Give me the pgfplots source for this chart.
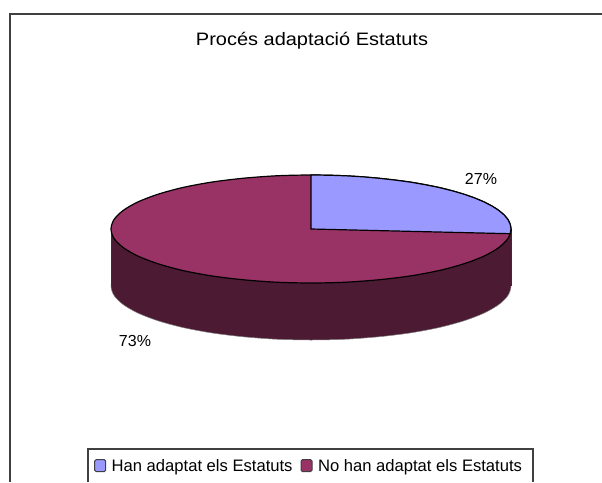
\documentclass[border=0pt]{standalone}
\usepackage{fontspec}
\setmainfont{Liberation Sans}
\usepackage{pgfplots}
\usepackage{pgfplotstable}
\pgfplotsset{compat=1.18}
\definecolor{slicea}{HTML}{9999FF}
\definecolor{sliceb}{HTML}{993366}
\definecolor{sideb}{HTML}{4C1A33}
\definecolor{frame}{HTML}{404040}

% rim of the pie, going round from 12 o'clock, in picture pixels
\pgfplotstableread{
x yt yb
311 175 232
345.7 175.8 232.8
379.4 178.3 235.3
411 182.2 239.2
439.6 187.6 244.6
464.2 194.3 251.3
484.2 202 259
498.9 210.5 267.5
508 219.6 276.6
511 229 286
508 238.4 295.4
498.9 247.5 304.5
484.2 256 313
464.2 263.7 320.7
439.6 270.4 327.4
411 275.8 332.8
379.4 279.7 336.7
345.7 282.2 339.2
311 283 340
276.3 282.2 339.2
242.6 279.7 336.7
211 275.8 332.8
182.4 270.4 327.4
157.8 263.7 320.7
137.8 256 313
123.1 247.5 304.5
114 238.4 295.4
111 229 286
114 219.6 276.6
123.1 210.5 267.5
137.8 202 259
157.8 194.3 251.3
182.4 187.6 244.6
211 182.2 239.2
242.6 178.3 235.3
276.3 175.8 232.8
}\rim

% 27% slice
\pgfplotstableread{
x y
311 229
311 175
328.4 175.2
345.7 175.8
362.8 176.8
379.4 178.3
395.5 180.1
411 182.2
425.7 184.8
439.6 187.6
452.4 190.8
464.2 194.3
474.8 198
484.2 202
492.3 206.2
498.9 210.5
504.2 215
508 219.6
510.2 224.3
511 229
510.2 233.7
}\slicea

\begin{document}
\begin{tikzpicture}[x=1pt,y=1pt]
\clip (0,0) rectangle (602,482);
\begin{axis}[
  at={(0,0)}, anchor=south west,
  scale only axis, width=602pt, height=482pt,
  xmin=0, xmax=602, ymin=0, ymax=482, y dir=reverse,
  axis lines=none, clip=false,
  legend columns=2,
  legend style={draw=none, fill=none, at={(axis cs:94,466)}, anchor=west,
    font=\fontsize{16.6}{18}\selectfont, inner sep=0pt,
    nodes={inner sep=0pt},
    /tikz/every even column/.append style={column sep=8pt}},
  legend cell align=left,
  legend image code/.code={
    \draw[#1, rounded corners=1.5pt, line width=1pt] (0pt,-5.5pt) rectangle (11pt,6.5pt);
    \path[draw=none, fill=none] (0pt,0pt) -- (17pt,0pt);
  },
]
  % frame
  \addplot[frame, line width=1.5pt, forget plot] coordinates {(10,482) (10,14) (602,14)};
  \addplot[frame, line width=1.2pt, forget plot] coordinates {(88,482) (88,449) (533,449) (533,482)};

  % side of the pie
  \addplot[sideb, fill=sideb, draw=gray, line width=0.5pt, smooth cycle, forget plot] table[x=x,y=yb] {\rim};
  \addplot[sideb, fill=sideb, draw=none, forget plot] coordinates {(111,229) (511,229) (511,286) (111,286)} --cycle;
  \addplot[black!80, line width=0.8pt, forget plot] coordinates {(111,229) (111,286)};
  \addplot[black!80, line width=0.8pt, forget plot] coordinates {(511,229) (511,286)};

  % top
  \addplot[fill=sliceb, draw=black, line width=1.2pt, smooth cycle, forget plot] table[x=x,y=yt] {\rim};
  \addplot[fill=slicea, draw=black, line width=1.2pt, forget plot] table[x=x,y=y] {\slicea} --cycle;

  \addlegendimage{fill=slicea, draw=frame}
  \addlegendentry{Han adaptat els Estatuts}
  \addlegendimage{fill=sliceb, draw=frame}
  \addlegendentry{No han adaptat els Estatuts}

  \node[font=\fontsize{18}{20}\selectfont] at (axis cs:312,41) {\scalebox{1.11}[1]{Procés adaptació Estatuts}};
  \node[font=\fontsize{16}{18}\selectfont] at (axis cs:481,179) {27\%};
  \node[font=\fontsize{16}{18}\selectfont] at (axis cs:135,341) {73\%};
\end{axis}
\end{tikzpicture}
\end{document}
